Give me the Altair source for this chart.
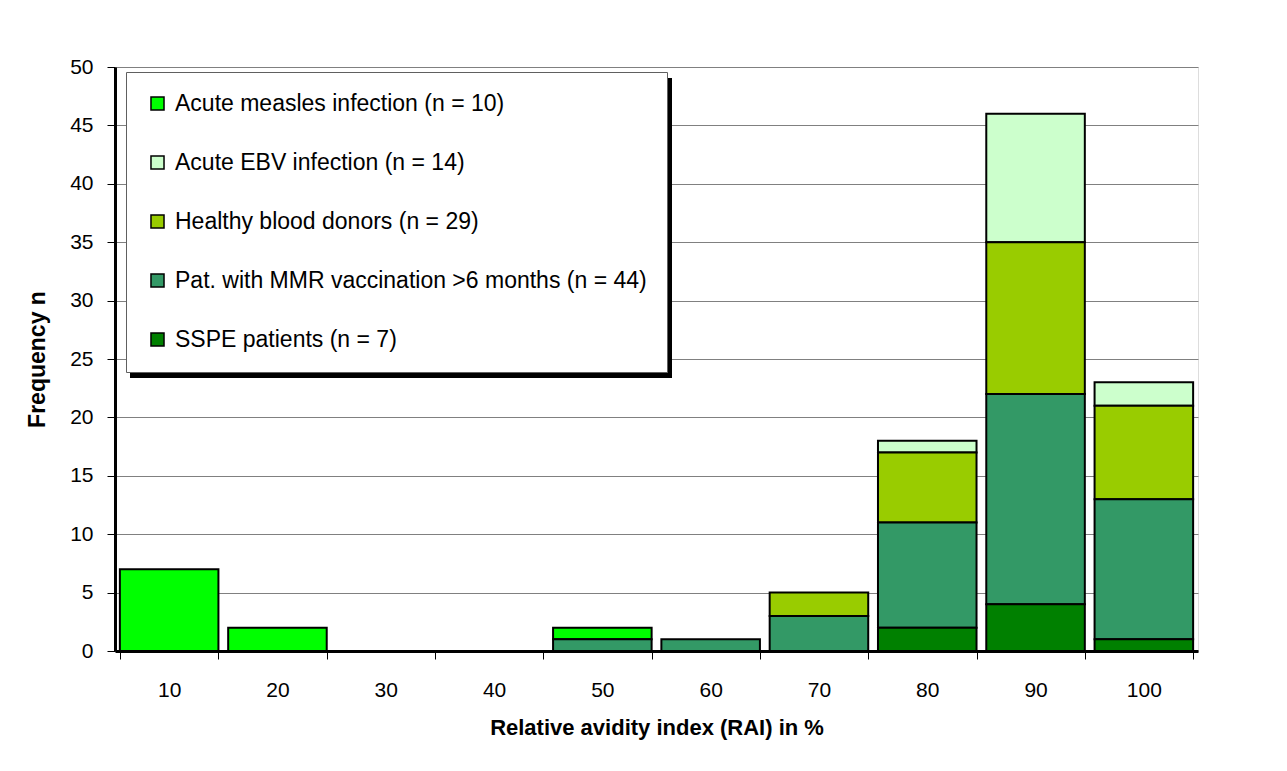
import altair as alt
import pandas as pd

rai = [10, 20, 30, 40, 50, 60, 70, 80, 90, 100]
groups = [
    "Acute measles infection (n = 10)",
    "Acute EBV infection (n = 14)",
    "Healthy blood donors (n = 29)",
    "Pat. with MMR vaccination >6 months (n = 44)",
    "SSPE patients (n = 7)",
]
colors = ["#00FF00", "#CCFFCC", "#99CC00", "#339966", "#008000"]
measles = [7, 2, 0, 0, 1, 0, 0, 0, 0, 0]
ebv = [0, 0, 0, 0, 0, 0, 0, 1, 11, 2]
healthy = [0, 0, 0, 0, 0, 0, 2, 6, 13, 8]
mmr = [0, 0, 0, 0, 1, 1, 3, 9, 18, 12]
sspe = [0, 0, 0, 0, 0, 0, 0, 2, 4, 1]

series = [measles, ebv, healthy, mmr, sspe]
rows = []
for gi, (g, vals) in enumerate(zip(groups, series)):
    for r, v in zip(rai, vals):
        if v > 0:
            rows.append({"rai": r, "group": g, "n": v, "order": len(groups) - 1 - gi})
df = pd.DataFrame(rows)

FONT = "Liberation Sans"

bars = alt.Chart(df).mark_bar(stroke="black", strokeWidth=2).encode(
    x=alt.X(
        "rai:O",
        title="Relative avidity index (RAI) in %",
        scale=alt.Scale(domain=rai, paddingInner=0.09, paddingOuter=0.045),
        axis=alt.Axis(
            labelAngle=0, tickBand="extent", grid=False, domainColor="black",
            domainWidth=3, tickColor="black", tickWidth=1, tickSize=8,
            labelPadding=20, titlePadding=17, labelFontSize=21, titleFontSize=22,
            titleFontWeight="bold", labelColor="black", titleColor="black",
            labelFont=FONT, titleFont=FONT,
        ),
    ),
    y=alt.Y(
        "n:Q",
        stack="zero",
        title="Frequency n",
        scale=alt.Scale(domain=[0, 50], nice=False),
        axis=alt.Axis(
            values=list(range(0, 51, 5)), grid=True, gridColor="#808080",
            gridWidth=1, domainColor="black", domainWidth=3, tickColor="black",
            tickWidth=1, tickSize=8, labelPadding=14, titlePadding=20,
            labelFontSize=21, titleFontSize=23, titleFontWeight="bold",
            labelColor="black", titleColor="black", labelFont=FONT, titleFont=FONT,
        ),
    ),
    color=alt.Color(
        "group:N",
        scale=alt.Scale(domain=groups, range=colors),
        legend=alt.Legend(
            title=None, orient="none", legendX=11, legendY=5,
            fillColor="white", strokeColor="#606060",
            padding=20, rowPadding=35, symbolType="square", symbolSize=170,
            symbolStrokeColor="black", symbolStrokeWidth=1.5,
            labelFontSize=23, labelFont=FONT, labelColor="black",
            labelLimit=800, symbolOpacity=1, labelOffset=6,
        ),
    ),
    order=alt.Order("order:Q", sort="ascending"),
)

shadow = alt.Chart(pd.DataFrame({"k": [0]})).mark_rect(color="black").encode(
    x=alt.value(15), x2=alt.value(557), y=alt.value(11), y2=alt.value(311)
)

chart = alt.layer(shadow, bars).properties(
    width=1083, height=584,
    padding={"left": 18, "top": 48, "right": 60, "bottom": 10},
).configure_view(stroke="black", strokeWidth=3).configure(background="white")

chart.save("out.html", embed_options={"renderer": "svg", "actions": False})
